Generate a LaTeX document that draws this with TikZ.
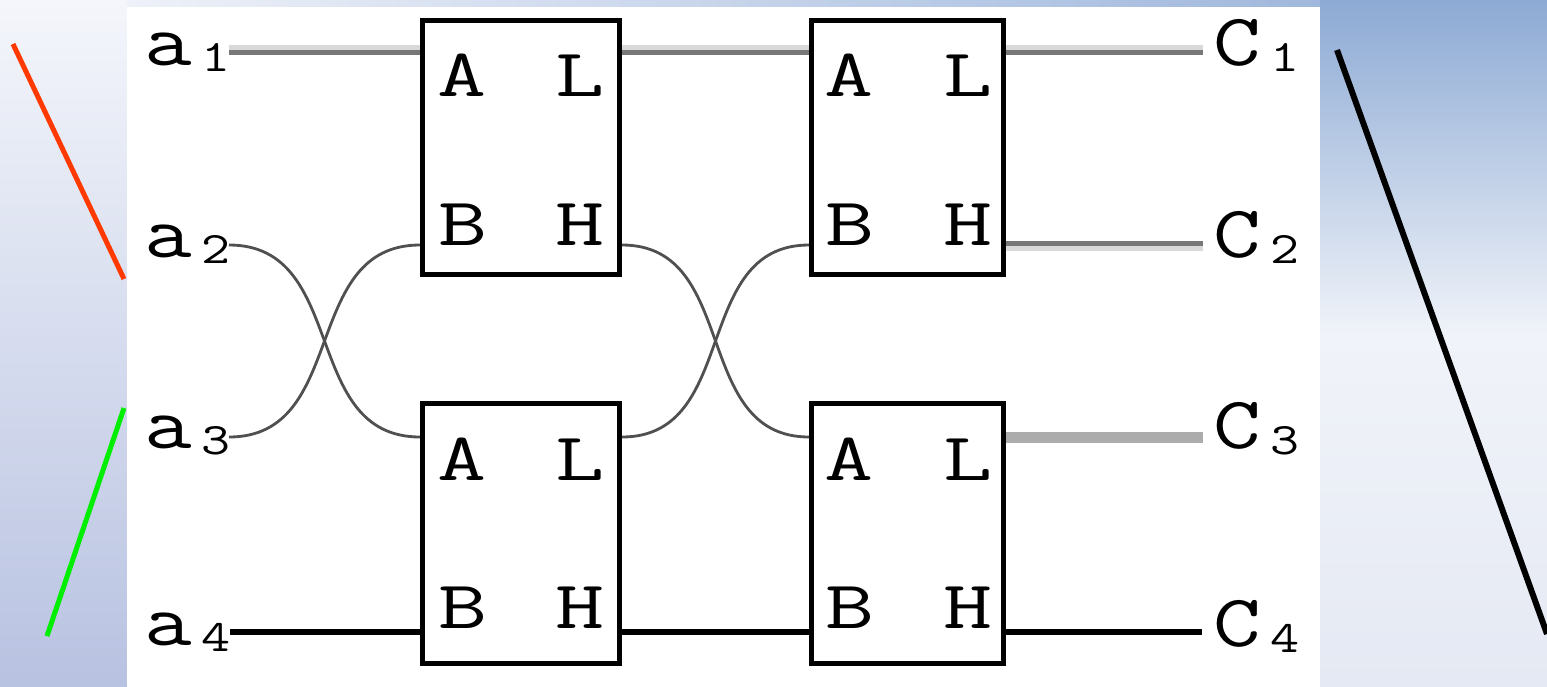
\documentclass[tikz,border=0pt]{standalone}
\usepackage{fontspec}
\definecolor{redln}{RGB}{255,58,0}
\definecolor{greenln}{RGB}{0,238,0}
\definecolor{lighttone}{RGB}{217,217,217}
\definecolor{darktone}{RGB}{119,119,119}
\definecolor{curvecol}{RGB}{80,80,80}
\definecolor{midgray}{RGB}{172,172,172}
\definecolor{ltop}{RGB}{244,246,251}
\definecolor{lbot}{RGB}{184,194,225}
\definecolor{rtop}{RGB}{141,170,212}
\definecolor{rmid}{RGB}{240,243,249}
\definecolor{rbot}{RGB}{229,233,243}
\definecolor{stripl}{RGB}{238,241,248}
\definecolor{stripr}{RGB}{160,184,221}
\newcommand{\mylbl}[2]{\scalebox{1.25}[1]{{\fontsize{74}{74}\selectfont #1}\hspace{8pt}\raisebox{-6pt}{\fontsize{45}{45}\selectfont #2}}}
\newcommand{\myletter}[1]{\scalebox{1.4}[1]{#1}}
\begin{document}
\begin{tikzpicture}[x=1pt,y=-1pt,
  boxst/.style={draw=black, line width=5pt, inner sep=0pt},
  letter/.style={font=\ttfamily\fontsize{68}{68}\selectfont, inner sep=0pt, anchor=base},
  lab/.style={font=\ttfamily, inner sep=0pt, anchor=base west},
  curve/.style={draw=curvecol, line width=2.8pt},
  lightw/.style={draw=lighttone, line width=4.5pt},
  darkw/.style={draw=darktone, line width=5pt},
  thickgray/.style={draw=midgray, line width=11pt},
  blackw/.style={draw=black, line width=6pt},
  diag/.style={line width=5pt}]
\useasboundingbox (0,0) rectangle (1547,686);
% background
\shade[top color=ltop, bottom color=lbot] (0,0) rectangle (127,686);
\shade[top color=rtop, bottom color=rmid] (1320,0) rectangle (1547,335);
\shade[top color=rmid, bottom color=rbot] (1320,334) rectangle (1547,686);
\shade[left color=stripl, right color=stripr] (127,0) rectangle (1320,7);
\fill[white] (127,7) rectangle (1320,686);

% rows
\coordinate (r1) at (0,50);
\coordinate (r2) at (0,245);
\coordinate (r3) at (0,437);
\coordinate (r4) at (0,632);

% boxes
\node[boxst, minimum width=197pt, minimum height=253.5pt] (B1) at (521,147.25) {};
\node[boxst, minimum width=197pt, minimum height=260pt] (B3) at (521,533.5) {};
\node[boxst, minimum width=191.5pt, minimum height=253.5pt] (B2) at (907.25,147.25) {};
\node[boxst, minimum width=192pt, minimum height=260pt] (B4) at (907.5,533.5) {};

% box letters
\node[letter] (B1A) at (462.5,96) {\myletter{A}};
\node[letter] (B1L) at (580,96) {\myletter{L}};
\node[letter] (B1B) at (463,245) {\myletter{B}};
\node[letter] (B1H) at (580,245) {\myletter{H}};
\node[letter] (B3A) at (462.5,480) {\myletter{A}};
\node[letter] (B3L) at (580,480) {\myletter{L}};
\node[letter] (B3B) at (463,628) {\myletter{B}};
\node[letter] (B3H) at (580,628) {\myletter{H}};
\node[letter] (B2A) at (849,96) {\myletter{A}};
\node[letter] (B2L) at (968,96) {\myletter{L}};
\node[letter] (B2B) at (850,245) {\myletter{B}};
\node[letter] (B2H) at (968,245) {\myletter{H}};
\node[letter] (B4A) at (849,480) {\myletter{A}};
\node[letter] (B4L) at (968,480) {\myletter{L}};
\node[letter] (B4B) at (850,628) {\myletter{B}};
\node[letter] (B4H) at (968,628) {\myletter{H}};

% labels
\node[lab] (a1) at (144,65) {\mylbl{a}{1}};
\node[lab] (a2) at (144,257) {\mylbl{a}{2}};
\node[lab] (a3) at (144,448) {\mylbl{a}{3}};
\node[lab] (a4) at (144,645) {\mylbl{a}{4}};
\node[lab] (c1) at (1213,65) {\mylbl{C}{1}};
\node[lab] (c2) at (1213,257) {\mylbl{C}{2}};
\node[lab] (c3) at (1213,448) {\mylbl{C}{3}};
\node[lab] (c4) at (1213,646) {\mylbl{C}{4}};

% ports
\coordinate (pa1) at (229,50);
\coordinate (pa2) at (229,245);
\coordinate (pa3) at (229,437);
\coordinate (pa4) at (230,632);
\coordinate (pc1) at (1203,50);
\coordinate (pc2) at (1203,245);
\coordinate (pc3) at (1203,437);
\coordinate (pc4) at (1202,632);
\coordinate (B1in1) at (B1.west|-r1);
\coordinate (B1in2) at (B1.west|-r2);
\coordinate (B1out1) at (B1.east|-r1);
\coordinate (B1out2) at (B1.east|-r2);
\coordinate (B3in3) at (B3.west|-r3);
\coordinate (B3in4) at (B3.west|-r4);
\coordinate (B3out3) at (B3.east|-r3);
\coordinate (B3out4) at (B3.east|-r4);
\coordinate (B2in1) at (B2.west|-r1);
\coordinate (B2in2) at (B2.west|-r2);
\coordinate (B2out1) at (B2.east|-r1);
\coordinate (B2out2) at (B2.east|-r2);
\coordinate (B4in3) at (B4.west|-r3);
\coordinate (B4in4) at (B4.west|-r4);
\coordinate (B4out3) at (B4.east|-r3);
\coordinate (B4out4) at (B4.east|-r4);

% two-tone lines, row 1
\draw[lightw] ([yshift=2.5pt]pa1) -- ([yshift=2.5pt]B1in1);
\draw[darkw] ([yshift=-2.5pt]pa1) -- ([yshift=-2.5pt]B1in1);
\draw[lightw] ([yshift=2.5pt]B1out1) -- ([yshift=2.5pt]B2in1);
\draw[darkw] ([yshift=-2.5pt]B1out1) -- ([yshift=-2.5pt]B2in1);
\draw[lightw] ([yshift=2.5pt]B2out1) -- ([yshift=2.5pt]pc1);
\draw[darkw] ([yshift=-2.5pt]B2out1) -- ([yshift=-2.5pt]pc1);
% row 2 output (dark on top)
\draw[darkw] ([yshift=1.5pt]B2out2) -- ([yshift=1.5pt]pc2);
\draw[lightw] ([yshift=-3.5pt]B2out2) -- ([yshift=-3.5pt]pc2);
% row 3 output
\draw[thickgray] (B4out3) -- (pc3);
% row 4
\draw[blackw] (pa4) -- (B3in4);
\draw[blackw] (B3out4) -- (B4in4);
\draw[blackw] (B4out4) -- (pc4);

% crossing curves
\draw[curve] (pa2) .. controls +(120,0) and +(-120,0) .. (B3in3);
\draw[curve] (pa3) .. controls +(120,0) and +(-120,0) .. (B1in2);
\draw[curve] (B1out2) .. controls +(118,0) and +(-118,0) .. (B4in3);
\draw[curve] (B3out3) .. controls +(118,0) and +(-118,0) .. (B2in2);

% diagonal marks
\coordinate (rs) at (13,44);
\coordinate (re) at (124,279);
\coordinate (gs) at (124,408);
\coordinate (ge) at (47,636);
\coordinate (ks) at (1337,50);
\coordinate (ke) at (1547,634);
\draw[diag, draw=redln] (rs) -- (re);
\draw[diag, draw=greenln] (gs) -- (ge);
\draw[diag, draw=black, line width=6pt] (ks) -- (ke);
\end{tikzpicture}
\end{document}
